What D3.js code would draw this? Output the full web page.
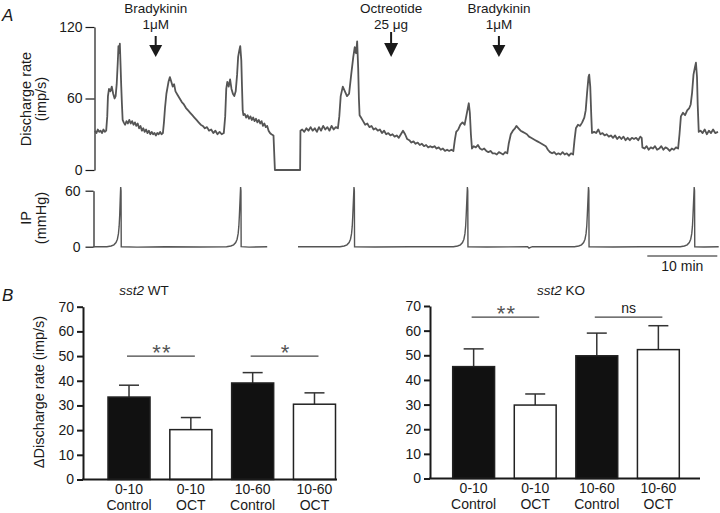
<!DOCTYPE html>
<html><head><meta charset="utf-8">
<script src="https://cdn.jsdelivr.net/npm/d3@7"></script>
<style>
body{margin:0;background:#fff;}
svg{display:block;font-family:"Liberation Sans",Arial,Helvetica,sans-serif;}
</style></head><body>
<svg id="c" width="720" height="513"></svg>
<script>
// ---------- Panel A data (time in min, discharge in imp/s) ----------
const discharge = [
[0,33],[0.2,31],[0.4,34],[0.6,32],[0.8,33],[1.0,31],[1.2,34],[1.4,32],[1.6,33],
[1.75,45],[1.85,62],[2.0,68],[2.2,66],[2.4,70],[2.6,64],[2.8,60],[2.95,62],[3.1,72],[3.25,90],[3.35,104],[3.45,98],[3.55,106],[3.65,88],[3.75,70],[3.85,55],[3.95,42],
[4.1,40],[4.3,38],[4.5,41],[4.7,39],[4.9,42],[5.1,39],[5.3,41],[5.5,38],[5.7,40],[5.9,37],[6.1,39],[6.3,35],[6.5,37],[6.7,33],[6.9,35],[7.1,32],[7.3,34],[7.5,31],[7.7,33],[7.9,30],[8.1,32],[8.3,30],[8.5,31],[8.7,29],[8.9,31],[9.1,30],[9.3,32],[9.5,30],[9.7,31],
[9.85,40],[10.0,52],[10.2,64],[10.5,74],[10.7,78],[10.9,74],[11.1,70],[11.3,72],[11.5,66],[11.8,63],[12.1,60],[12.4,57],[12.7,55],[13.0,52],[13.3,50],[13.6,48],[13.9,46],[14.2,44],[14.5,42],[14.8,40],[15.1,38],[15.4,37],[15.7,35],[16.0,36],[16.3,33],[16.6,34],[16.9,31],[17.2,33],[17.5,30],[17.8,32],[18.1,30],[18.4,31],
[18.6,45],[18.75,68],[18.9,74],[19.1,70],[19.3,76],[19.5,68],[19.7,64],[19.9,62],[20.1,66],[20.3,80],[20.45,95],[20.6,100],[20.75,104],[20.9,92],[21.0,70],[21.1,50],[21.2,46],
[21.4,47],[21.6,44],[21.8,46],[22.0,43],[22.2,45],[22.4,42],[22.6,44],[22.8,41],[23.0,43],[23.2,40],[23.4,42],[23.6,39],[23.8,41],[24.0,37],[24.2,39],[24.4,36],[24.6,37],[24.8,33],[25.0,31],[25.2,30],[25.5,29],
[25.7,0],[29.3,0],[29.35,33],
[29.6,34],[29.9,32],[30.2,35],[30.5,33],[30.8,36],[31.1,33],[31.4,35],[31.7,32],[32.0,36],[32.3,33],[32.6,37],[32.9,34],[33.2,36],[33.5,33],[33.8,37],[34.1,34],[34.4,36],[34.7,35],
[34.9,45],[35.1,62],[35.4,70],[35.7,66],[36.0,62],[36.3,64],[36.6,80],[36.9,95],[37.1,103],[37.3,98],[37.45,108],[37.6,85],[37.7,60],[37.8,46],
[38.0,44],[38.3,41],[38.6,38],[38.9,39],[39.2,36],[39.5,37],[39.8,34],[40.1,35],[40.4,33],[40.7,34],[41.0,31],[41.3,33],[41.6,30],[41.9,31],[42.2,29],[42.5,30],[42.8,28],[43.1,29],[43.4,27],[43.7,30],[44.0,33],[44.3,30],[44.6,26],[44.9,25],[45.2,23],[45.5,24],[45.8,22],[46.1,23],[46.4,21],[46.7,22],[47.0,20],[47.3,21],[47.6,19],[47.9,20],[48.2,19],[48.5,20],[48.8,18],[49.1,19],[49.4,17],[49.7,18],[50.0,16],[50.3,17],[50.6,16],[50.9,17],[51.2,16],
[51.4,25],[51.6,32],[51.9,34],[52.2,38],[52.5,40],[52.8,38],[53.0,44],[53.2,50],[53.4,56],[53.55,48],[53.7,30],[53.85,18],
[54.1,20],[54.4,19],[54.7,21],[55.0,18],[55.3,17],[55.6,18],[55.9,16],[56.2,15],[56.5,16],[56.8,14],[57.1,14],[57.4,13],[57.7,15],[58.0,14],[58.3,13],[58.6,15],[58.9,14],
[59.1,22],[59.4,30],[59.7,33],[60.0,35],[60.2,37],[60.5,35],[60.8,33],[61.1,32],[61.4,31],[61.7,30],[62.0,28],[62.3,27],[62.6,26],[62.9,25],[63.2,24],[63.5,23],[63.8,22],[64.1,21],[64.4,20],[64.7,17],[65.0,15],[65.3,14],[65.6,15],[65.9,13],[66.2,14],[66.5,13],[66.8,15],[67.1,13],[67.4,14],[67.7,12],[68.0,14],[68.3,13],
[68.5,25],[68.7,35],[69.0,38],[69.3,37],[69.6,40],[69.9,44],[70.1,50],[70.3,65],[70.5,78],[70.6,80],[70.75,70],[70.9,45],[71.0,31],
[71.3,32],[71.6,31],[71.9,34],[72.2,30],[72.5,31],[72.8,29],[73.1,30],[73.4,28],[73.7,29],[74.0,27],[74.3,29],[74.6,26],[74.9,28],[75.2,26],[75.5,28],[75.8,25],[76.1,27],[76.4,25],[76.7,27],[77.0,26],[77.3,27],[77.6,25],[77.9,28],[78.1,27],
[78.2,19],[78.5,18],[78.8,20],[79.1,17],[79.4,19],[79.7,18],[80.0,20],[80.3,17],[80.6,18],[80.9,20],[81.2,17],[81.5,19],[81.8,18],[82.1,16],[82.4,18],[82.7,17],[83.0,19],[83.3,18],
[83.5,30],[83.7,45],[84.0,48],[84.3,46],[84.6,50],[84.9,52],[85.1,55],[85.3,65],[85.5,80],[85.7,86],[85.85,90],[86.0,78],[86.1,55],[86.25,32],
[86.5,33],[86.8,31],[87.1,34],[87.4,30],[87.7,33],[88.0,31],[88.3,34],[88.6,31],[89.0,32]
];
// intraluminal pressure (mmHg); null marks the recording gap
const ipTrace = [
[-0.3,0],[1.7,0],[2.3,0.8],[2.7,2],[3.0,4.5],[3.2,8],[3.35,14],[3.45,22],[3.53,34],[3.6,50],[3.67,64],[3.72,60],[3.75,0],[6,-0.5],[10,0],[15,-0.3],
[18.8,0],[19.4,0.8],[19.8,2],[20.1,4.5],[20.3,8],[20.45,14],[20.55,22],[20.63,34],[20.72,50],[20.8,64],[20.85,60],[20.88,0],[22,-0.5],[24.6,0],
[24.7,null],
[29.0,0],[33,0],
[35.0,0],[35.6,0.8],[36.0,2],[36.3,4.5],[36.5,8],[36.65,14],[36.75,22],[36.83,34],[36.92,50],[37.0,64],[37.05,60],[37.08,0],[40,-0.3],[45,0],
[51.2,0],[51.8,0.8],[52.2,2],[52.5,4.5],[52.7,8],[52.85,14],[52.95,22],[53.03,34],[53.12,50],[53.2,64],[53.25,60],[53.28,0],[56,-0.4],
[61.8,0],[62.0,-1.5],[62.3,-0.5],[62.5,0],
[68.5,0],[69.1,0.8],[69.5,2],[69.8,4.5],[70.0,8],[70.15,14],[70.25,22],[70.33,34],[70.42,50],[70.5,64],[70.55,60],[70.58,0],[74,-0.4],[78,0],
[83.6,0],[84.2,0.8],[84.6,2],[84.9,4.5],[85.1,8],[85.25,14],[85.35,22],[85.43,34],[85.52,50],[85.6,64],[85.65,60],[85.68,0],[87,-0.3],[89.1,0]
];
const dischargeTicks = [0, 60, 120];
const ipTicks = [0, 60];
const annotations = [
  {t: 8.67, lines: ["Bradykinin", "1\u03BCM"], big: false},
  {t: 42.3, lines: ["Octreotide", "25 \u03BCg"], big: true},
  {t: 57.7, lines: ["Bradykinin", "1\u03BCM"], big: false}
];
const scaleBar = {start: 78.9, minutes: 10, label: "10 min"};

// ---------- Panel B data ----------
const barTop = ["0-10", "0-10", "10-60", "10-60"];
const barBottom = ["Control", "OCT", "Control", "OCT"];
const barFilled = [true, false, true, false];
const barTicks = [0, 10, 20, 30, 40, 50, 60, 70];
const wtMeans = [33.4, 20.2, 39.1, 30.5];
const wtSem   = [4.8, 4.9, 4.2, 4.6];
const koMeans = [45.4, 29.8, 49.8, 52.3];
const koSem   = [7.2, 4.5, 9.2, 9.7];
const wtSig = [{a: 0, b: 1, y: 50, label: "**"}, {a: 2, b: 3, y: 50, label: "*"}];
const koSig = [{a: 0, b: 1, y: 65.5, label: "**"}, {a: 2, b: 3, y: 65.5, label: "ns"}];

// ---------- drawing ----------
const svg = d3.select("#c");
const ink = "#1a1a1a";
const traceCol = "#555";

svg.append("text").attr("x", 2).attr("y", 21).attr("font-size", 17).attr("font-style", "italic").attr("fill", ink).text("A");

const xT = d3.scaleLinear().domain([0, 89]).range([95, 718]);
const yD = d3.scaleLinear().domain([0, 120]).range([170, 27]);
const yIP = d3.scaleLinear().domain([0, 60]).range([246.7, 190.7]);

function styleAxis(g, w) {
  g.selectAll("path").attr("stroke", ink).attr("stroke-width", w);
  g.selectAll("line").attr("stroke", ink).attr("stroke-width", w);
  g.selectAll("text").attr("fill", ink).attr("font-size", 14).attr("font-family", "Liberation Sans, Arial, sans-serif");
}

const gYD = svg.append("g").attr("transform", "translate(94.5,0)")
  .call(d3.axisLeft(yD).tickValues(dischargeTicks).tickSize(9).tickSizeOuter(0).tickPadding(3));
styleAxis(gYD, 1.2);

const gYI = svg.append("g").attr("transform", "translate(93.5,0)")
  .call(d3.axisLeft(yIP).tickValues(ipTicks).tickSize(8).tickSizeOuter(0).tickPadding(5));
styleAxis(gYI, 1.2);

function rotLabel(lines, cy, xs, size) {
  lines.forEach((l, i) => {
    svg.append("text").attr("transform", `translate(${xs[i]},${cy}) rotate(-90)`)
      .attr("text-anchor", "middle").attr("font-size", size).attr("fill", ink).text(l);
  });
}
rotLabel(["Discharge rate", "(imp/s)"], 99, [31, 46], 14.5);
rotLabel(["IP", "(mmHg)"], 218, [31, 46], 14.5);

const lineD = d3.line().x(d => xT(d[0])).y(d => yD(d[1]));
svg.append("path").datum(discharge).attr("d", lineD).attr("fill", "none")
  .attr("stroke", traceCol).attr("stroke-width", 1.8).attr("stroke-linejoin", "round");

const lineI = d3.line().defined(d => d[1] !== null).x(d => xT(d[0])).y(d => yIP(d[1]));
svg.append("path").datum(ipTrace).attr("d", lineI).attr("fill", "none")
  .attr("stroke", traceCol).attr("stroke-width", 1.4);

annotations.forEach(a => {
  const x = xT(a.t);
  svg.append("text").attr("x", x).attr("y", 13).attr("text-anchor", "middle").attr("font-size", 13.5).attr("fill", ink).text(a.lines[0]);
  svg.append("text").attr("x", x).attr("y", 28.5).attr("text-anchor", "middle").attr("font-size", 13.5).attr("fill", ink).text(a.lines[1]);
  const stemTop = a.big ? 32 : 36, headTop = a.big ? 43 : 45, tip = 57, hw = a.big ? 7 : 6.5;
  svg.append("line").attr("x1", x).attr("x2", x).attr("y1", stemTop).attr("y2", headTop + 1)
    .attr("stroke", ink).attr("stroke-width", 2);
  svg.append("path").attr("d", `M${x - hw},${headTop}L${x + hw},${headTop}L${x},${tip}Z`).attr("fill", ink);
});

svg.append("line").attr("x1", xT(scaleBar.start)).attr("x2", xT(scaleBar.start + scaleBar.minutes))
  .attr("y1", 256).attr("y2", 256).attr("stroke", ink).attr("stroke-width", 1.2);
svg.append("text").attr("x", (xT(scaleBar.start) + xT(scaleBar.start + scaleBar.minutes)) / 2).attr("y", 271)
  .attr("text-anchor", "middle").attr("font-size", 14).attr("fill", ink).text(scaleBar.label);

svg.append("text").attr("x", 2).attr("y", 301).attr("font-size", 17).attr("font-style", "italic").attr("fill", ink).text("B");

function barChart(opt) {
  const y = d3.scaleLinear().domain([0, 70]).range([opt.y0, opt.y70]);
  const x = d3.scaleBand().domain(d3.range(4)).range([opt.bx0, opt.bx1]).paddingInner(0.32).paddingOuter(0);
  const g = svg.append("g");
  const t = g.append("text").attr("x", opt.titleX).attr("y", 295).attr("text-anchor", "middle").attr("font-size", 13.5).attr("fill", ink);
  t.append("tspan").attr("font-style", "italic").text("sst2");
  t.append("tspan").text(" " + opt.title);
  opt.means.forEach((m, i) => {
    const cx = x(i) + x.bandwidth() / 2;
    const top = y(m + opt.sem[i]);
    g.append("line").attr("x1", cx).attr("x2", cx).attr("y1", y(m)).attr("y2", top).attr("stroke", "#333").attr("stroke-width", 1.5);
    g.append("line").attr("x1", cx - 10).attr("x2", cx + 10).attr("y1", top).attr("y2", top).attr("stroke", "#333").attr("stroke-width", 1.5);
    g.append("rect").attr("x", x(i)).attr("y", y(m)).attr("width", x.bandwidth()).attr("height", y(0) - y(m))
      .attr("fill", barFilled[i] ? "#111" : "#fff").attr("stroke", "#222").attr("stroke-width", 1.5);
    g.append("text").attr("x", cx).attr("y", opt.lab1).attr("text-anchor", "middle").attr("font-size", 14).attr("fill", ink).text(barTop[i]);
    g.append("text").attr("x", cx).attr("y", opt.lab1 + 15.5).attr("text-anchor", "middle").attr("font-size", 14).attr("fill", ink).text(barBottom[i]);
  });
  opt.sig.forEach(s => {
    const xa = x(s.a) + x.bandwidth() / 2 - 2, xb = x(s.b) + x.bandwidth() / 2 + 4;
    g.append("line").attr("x1", xa).attr("x2", xb).attr("y1", y(s.y)).attr("y2", y(s.y)).attr("stroke", "#444").attr("stroke-width", 1.3);
    const isStar = s.label.indexOf("*") >= 0;
    g.append("text").attr("x", (xa + xb) / 2 + (isStar ? 1 : 0)).attr("y", y(s.y) + (isStar ? 4 : -4)).attr("text-anchor", "middle")
      .attr("font-size", isStar ? 22 : 14).attr("letter-spacing", isStar ? 1 : 0).attr("fill", isStar ? "#555" : ink).text(s.label);
  });
  const ga = g.append("g").attr("transform", `translate(${opt.ax},0)`)
    .call(d3.axisLeft(y).tickValues(barTicks).tickSize(6).tickSizeOuter(0).tickPadding(3));
  styleAxis(ga, 2);
  g.append("line").attr("x1", opt.ax - 1).attr("x2", opt.xEnd).attr("y1", y(0)).attr("y2", y(0)).attr("stroke", ink).attr("stroke-width", 2.2);
  return y;
}

barChart({title: "WT", titleX: 144, means: wtMeans, sem: wtSem, sig: wtSig,
  y0: 479.5, y70: 306.7, bx0: 108, bx1: 335.5, ax: 83, xEnd: 337, lab1: 494});
barChart({title: "KO", titleX: 561, means: koMeans, sem: koSem, sig: koSig,
  y0: 478.5, y70: 306, bx0: 452.7, bx1: 679.3, ax: 430, xEnd: 700, lab1: 493});

rotLabel(["\u0394Discharge rate (imp/s)"], 392, [44], 14.5);
</script>
</body></html>
